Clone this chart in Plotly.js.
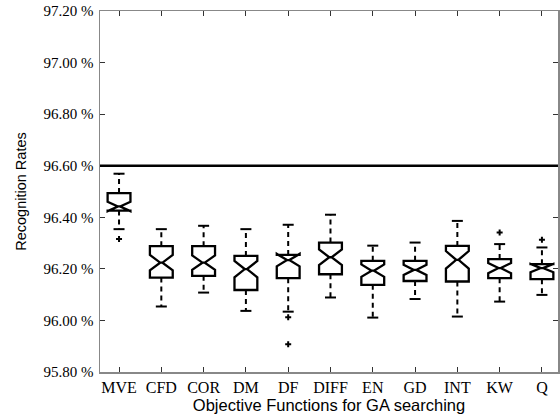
<!DOCTYPE html>
<html>
<head>
<meta charset="utf-8">
<script src="https://cdn.plot.ly/plotly-3.0.1.min.js"></script>
<style>html,body{margin:0;padding:0;background:#fff;}#chart{width:560px;height:415px;}</style>
</head>
<body>
<div id="chart"></div>
<script>
// ---- data ----
const categories = ["MVE","CFD","COR","DM","DF","DIFF","EN","GD","INT","KW","Q"];
const upperWhisker = [96.569, 96.354, 96.367, 96.354, 96.371, 96.410, 96.290, 96.302, 96.386, 96.296, 96.283];
const q3Values     = [96.494, 96.288, 96.288, 96.250, 96.254, 96.302, 96.231, 96.231, 96.289, 96.238, 96.218];
const medians      = [96.442, 96.224, 96.224, 96.199, 96.234, 96.245, 96.193, 96.196, 96.235, 96.203, 96.203];
const q1Values     = [96.426, 96.166, 96.173, 96.118, 96.164, 96.179, 96.138, 96.153, 96.151, 96.164, 96.160];
const lowerWhisker = [96.354, 96.054, 96.108, 96.037, 96.034, 96.089, 96.011, 96.083, 96.015, 96.073, 96.099];
const notchSpans   = [0.018, 0.030, 0.028, 0.032, 0.024, 0.030, 0.024, 0.020, 0.034, 0.020, 0.016];
const outlierCats  = ["MVE","DF","DF","KW","Q"];
const outlierVals  = [96.316, 96.012, 95.908, 96.341, 96.313];
const referenceRate = 96.60;
const yTickVals  = [95.8, 96.0, 96.2, 96.4, 96.6, 96.8, 97.0, 97.2];
const yTickText  = ["95.80 %","96.00 %","96.20 %","96.40 %","96.60 %","96.80 %","97.00 %","97.20 %"];

// ---- build traces ----
const pos = categories.map((c, i) => i + 1);
const BOX_W = 0.54, CAP_HALF = 0.13;
const traces = [];

// whiskers (dashed) and caps (solid)
const wx = [], wy = [], cx = [], cy = [];
categories.forEach((c, i) => {
  const p = pos[i];
  wx.push(p, p, null, p, p, null);
  wy.push(q3Values[i], upperWhisker[i], null, q1Values[i], lowerWhisker[i], null);
  cx.push(p - CAP_HALF, p + CAP_HALF, null, p - CAP_HALF, p + CAP_HALF, null);
  cy.push(upperWhisker[i], upperWhisker[i], null, lowerWhisker[i], lowerWhisker[i], null);
});
traces.push({type:"scatter", mode:"lines", x:wx, y:wy, hoverinfo:"skip", showlegend:false,
  line:{color:"#000", width:2, dash:"5px,4px"}});
traces.push({type:"scatter", mode:"lines", x:cx, y:cy, hoverinfo:"skip", showlegend:false,
  line:{color:"#000", width:2}});

// notched boxes
traces.push({
  type:"box", x:pos, q1:q1Values, median:medians, q3:q3Values,
  lowerfence:q1Values, upperfence:q3Values, notchspan:notchSpans,
  notched:true, notchwidth:0.45, width:BOX_W, whiskerwidth:0,
  boxpoints:false, fillcolor:"rgba(255,255,255,0)",
  line:{color:"#000", width:2.3}, showlegend:false
});

// outliers
traces.push({type:"scatter", mode:"markers",
  x:outlierCats.map(c => categories.indexOf(c) + 1), y:outlierVals,
  marker:{symbol:"cross", size:5, color:"#000"}, showlegend:false});

const layout = {
  width:560, height:415,
  margin:{l:100, r:2, t:11, b:43},
  paper_bgcolor:"#fff", plot_bgcolor:"#fff",
  showlegend:false,
  xaxis:{
    range:[0.55, 11.38], tickmode:"array", tickvals:pos, ticktext:categories,
    showgrid:false, zeroline:false, showline:true, linecolor:"#888", linewidth:1.5,
    mirror:"ticks", ticks:"inside", ticklen:5, tickcolor:"#333", tickwidth:1,
    tickfont:{family:"Liberation Serif, Times New Roman, serif", size:16, color:"#000"},
    title:{text:"Objective Functions for GA searching", standoff:0,
      font:{family:"Liberation Sans, Arial, sans-serif", size:16.5, color:"#000"}}
  },
  yaxis:{
    range:[95.8, 97.2], tickmode:"array", tickvals:yTickVals, ticktext:yTickText,
    showgrid:false, zeroline:false, showline:true, linecolor:"#888", linewidth:1.5,
    mirror:"ticks", ticks:"inside", ticklen:5, tickcolor:"#333", tickwidth:1,
    ticklabelstandoff:2,
    tickfont:{family:"Liberation Serif, Times New Roman, serif", size:15, color:"#000"},
    title:{text:"Recognition Rates", standoff:13,
      font:{family:"Liberation Sans, Arial, sans-serif", size:14.5, color:"#000"}}
  },
  shapes:[{type:"line", xref:"paper", x0:0, x1:1, yref:"y", y0:referenceRate, y1:referenceRate,
    line:{color:"#000", width:2.5}}]
};

Plotly.newPlot("chart", traces, layout, {displayModeBar:false, staticPlot:true});
</script>
</body>
</html>
